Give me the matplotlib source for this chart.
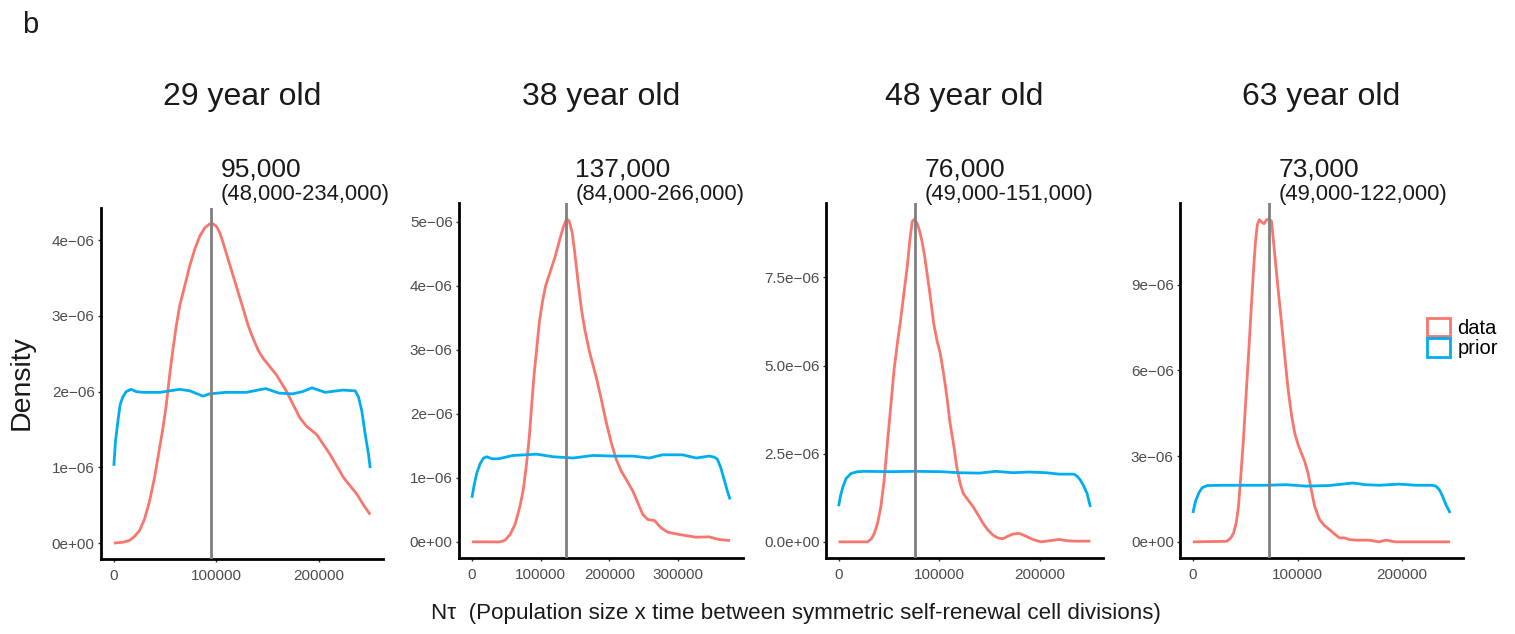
import numpy as np
import matplotlib
matplotlib.use("Agg")
import matplotlib.pyplot as plt
from matplotlib.patches import Patch

plt.rcParams['font.family'] = ['Liberation Sans', 'DejaVu Sans']

W, H = 1515, 634

# ---------------- data ----------------
titles = ["29 year old", "38 year old", "48 year old", "63 year old"]
medians = [95000, 137000, 76000, 73000]
median_labels = ["95,000", "137,000", "76,000", "73,000"]
ci_labels = ["(48,000-234,000)", "(84,000-266,000)", "(49,000-151,000)", "(49,000-122,000)"]

# x in thousands, density in 1e-6
data1_x = [0, 8.8, 15.3, 20.2, 25.1, 30.0, 34.9, 39.7, 44.6, 47.9, 51.1, 54.4, 57.7, 60.9, 64.2, 69.1, 73.9, 78.8,
           83.7, 88.6, 93.5, 96.7, 100.0, 103.3, 106.5, 111.4, 116.3, 121.2, 126.1, 130.9, 135.8, 140.7, 145.6,
           152.1, 158.6, 163.5, 168.4, 174.9, 181.4, 187.9, 197.7, 204.2, 210.7, 217.3, 223.8, 230.3, 236.8, 243.3, 249.8]
data1_y = [0.0, 0.01, 0.035, 0.087, 0.166, 0.319, 0.559, 0.865, 1.258, 1.52, 1.825, 2.218, 2.568, 2.873, 3.135, 3.397,
           3.659, 3.878, 4.052, 4.162, 4.214, 4.214, 4.183, 4.096, 3.965, 3.747, 3.528, 3.31, 3.092, 2.873, 2.699,
           2.546, 2.437, 2.328, 2.218, 2.109, 2.0, 1.825, 1.651, 1.541, 1.432, 1.301, 1.17, 1.017, 0.865, 0.755,
           0.646, 0.502, 0.376]
prior1_x = [0, 1.6, 3.9, 6.2, 8.8, 12.1, 16.9, 21.8, 28, 45, 64, 74, 87, 93, 109, 129, 148, 161, 174, 184, 193, 206,
            223, 235.2, 238.4, 241.7, 245.0, 248.2, 249.8]
prior1_y = [1.02, 1.34, 1.6, 1.83, 1.93, 2.0, 2.03, 2.0, 1.99, 1.99, 2.03, 2.01, 1.94, 1.97, 1.99, 1.99, 2.04, 1.98,
            1.97, 2.0, 2.05, 1.99, 2.02, 2.01, 1.93, 1.74, 1.43, 1.17, 0.99]

data2_x = [0, 41, 48.2, 55.5, 62.7, 69.9, 74.8, 79.6, 83.5, 86.8, 90.2, 94.1, 97.9, 102.3, 107.1, 113.4, 120.6, 127.8,
           132.7, 137.5, 141.3, 145.7, 149.5, 154.4, 159.2, 164.0, 171.2, 180.9, 188.1, 195.4, 202.6, 209.8, 217.1,
           224.3, 234.0, 241.2, 248.4, 255.7, 265.3, 275.0, 284.6, 301.5, 325.6, 344.9, 359.4, 375.3]
data2_y = [0.0, 0.0, 0.026, 0.115, 0.271, 0.558, 0.819, 1.236, 1.653, 2.122, 2.591, 3.008, 3.425, 3.738, 3.999, 4.208,
           4.442, 4.729, 4.911, 5.042, 5.016, 4.833, 4.52, 4.051, 3.634, 3.321, 2.956, 2.565, 2.226, 1.861, 1.548,
           1.288, 1.105, 0.975, 0.792, 0.61, 0.428, 0.349, 0.334, 0.219, 0.151, 0.115, 0.073, 0.078, 0.036, 0.021]
prior2_x = [0, 3.4, 7.2, 12.1, 16.9, 21.7, 28.9, 38.6, 60, 94, 118, 147, 176, 205, 234, 258, 277, 306, 326, 345,
            352.2, 357, 361.8, 366.6, 371.4, 375.3]
prior2_y = [0.688, 0.897, 1.079, 1.225, 1.309, 1.33, 1.298, 1.298, 1.35, 1.37, 1.33, 1.31, 1.35, 1.34, 1.34, 1.31,
            1.36, 1.36, 1.31, 1.34, 1.324, 1.288, 1.157, 0.975, 0.792, 0.662]

data3_x = [0, 28.8, 32.7, 35.4, 38.6, 41.9, 45.2, 48.4, 51.7, 55.0, 58.3, 61.5, 64.8, 68.1, 70.7, 73.0, 75.3, 77.9,
           80.5, 82.8, 85.4, 87.7, 91.0, 94.3, 97.5, 100.8, 104.1, 107.4, 110.6, 113.9, 117.2, 120.5, 123.7, 128.6,
           133.6, 138.5, 143.4, 148.3, 153.2, 158.1, 163.0, 167.9, 172.8, 179.4, 185.9, 192.5, 200.7, 208.8, 218.7,
           226.8, 235.0, 249.8]
data3_y = [0.0, 0.0, 0.095, 0.237, 0.52, 0.993, 1.75, 2.79, 3.83, 4.87, 5.63, 6.29, 7.05, 7.8, 8.56, 9.08, 9.15, 9.03,
           8.8, 8.51, 8.09, 7.62, 6.95, 6.2, 5.72, 5.35, 4.78, 4.12, 3.36, 2.79, 2.13, 1.66, 1.37, 1.18, 0.99, 0.76,
           0.52, 0.33, 0.19, 0.11, 0.09, 0.16, 0.22, 0.24, 0.16, 0.07, 0.0, 0.03, 0.07, 0.03, 0.02, 0.02]
prior3_x = [0, 2.0, 4.3, 7.5, 12.4, 19.0, 25.5, 52, 75, 101, 120, 140, 156, 173, 189, 206, 219, 233.4, 236.7, 239.9,
            243.2, 246.5, 249.8]
prior3_y = [1.01, 1.32, 1.56, 1.8, 1.94, 1.99, 2.0, 1.99, 2.0, 1.99, 1.96, 1.95, 2.0, 1.96, 1.98, 1.96, 1.92, 1.92,
            1.86, 1.75, 1.58, 1.37, 0.99]

data4_x = [0, 32.5, 36.3, 38.9, 41.4, 43.6, 45.8, 48.3, 50.6, 53.1, 55.3, 57.8, 59.7, 61.6, 63.5, 65.7, 67.9, 70.5,
           73.0, 75.2, 78.4, 81.5, 84.7, 87.8, 91.0, 94.2, 97.3, 100.5, 103.6, 106.8, 110.0, 113.1, 116.3, 121.0,
           125.7, 130.5, 135.2, 140.0, 144.7, 149.4, 155.8, 168.4, 177.9, 184.2, 193.7, 245.8]
data4_y = [0.0, 0.02, 0.14, 0.31, 0.66, 1.25, 2.3, 3.58, 4.98, 6.49, 7.89, 9.41, 10.45, 11.1, 11.27, 11.19, 11.13,
           11.27, 11.29, 11.21, 9.99, 8.82, 7.66, 6.49, 5.33, 4.45, 3.81, 3.4, 3.11, 2.82, 2.41, 1.83, 1.25, 0.78,
           0.57, 0.43, 0.28, 0.14, 0.14, 0.08, 0.06, 0.06, 0.0, 0.06, 0.0, 0.0]
prior4_x = [0, 2.5, 5.7, 8.8, 13.6, 29, 55, 70, 89, 108, 130, 153, 165, 178, 197, 213, 228.4, 232.2, 235.4, 238.5,
            241.7, 245.8]
prior4_y = [1.01, 1.42, 1.71, 1.89, 1.97, 1.98, 1.98, 1.98, 2.0, 1.95, 1.97, 2.06, 2.0, 1.98, 2.02, 1.98, 1.98,
            1.95, 1.83, 1.6, 1.31, 1.01]

data_x = [data1_x, data2_x, data3_x, data4_x]
data_y = [data1_y, data2_y, data3_y, data4_y]
prior_x = [prior1_x, prior2_x, prior3_x, prior4_x]
prior_y = [prior1_y, prior2_y, prior3_y, prior4_y]

ytick_vals = [[0, 1e-6, 2e-6, 3e-6, 4e-6],
              [0, 1e-6, 2e-6, 3e-6, 4e-6, 5e-6],
              [0, 2.5e-6, 5.0e-6, 7.5e-6],
              [0, 3e-6, 6e-6, 9e-6]]
ytick_labels = [["0e+00", "1e\u221206", "2e\u221206", "3e\u221206", "4e\u221206"],
                ["0e+00", "1e\u221206", "2e\u221206", "3e\u221206", "4e\u221206", "5e\u221206"],
                ["0.0e+00", "2.5e\u221206", "5.0e\u221206", "7.5e\u221206"],
                ["0e+00", "3e\u221206", "6e\u221206", "9e\u221206"]]
xtick_vals = [[0, 100000, 200000],
              [0, 100000, 200000, 300000],
              [0, 100000, 200000],
              [0, 100000, 200000]]
xtick_labels = [[str(v) for v in xv] for xv in xtick_vals]

# ---------------- style ----------------
RED = "#F8766D"
BLUE = "#00AEEF"
# axes boxes in pixels: left, right, top, bottom
boxes = [(101, 383, 208, 559), (459, 743, 203, 558), (826, 1103, 203, 558), (1180, 1463, 203, 558)]

fig = plt.figure(figsize=(W / 100, H / 100), dpi=100)

for i in range(4):
    l, r, t, b = boxes[i]
    ax = fig.add_axes([l / W, 1 - b / H, (r - l) / W, (b - t) / H])
    dx = np.array(data_x[i]) * 1e3
    dy = np.array(data_y[i]) * 1e-6
    px = np.array(prior_x[i]) * 1e3
    py = np.array(prior_y[i]) * 1e-6
    ax.plot(dx, dy, color=RED, lw=2.0, solid_joinstyle='round', solid_capstyle='butt', zorder=3)
    ax.plot(px, py, color=BLUE, lw=2.0, solid_joinstyle='round', solid_capstyle='butt', zorder=3)
    ax.axvline(medians[i], color="#808080", lw=2.0, zorder=4)

    xmax = max(dx.max(), px.max())
    ymax = max(dy.max(), py.max())
    ax.set_xlim(-0.05 * xmax, 1.05 * xmax)
    ax.set_ylim(-0.05 * ymax, 1.05 * ymax)

    ax.set_yticks(ytick_vals[i])
    ax.set_yticklabels(ytick_labels[i])
    ax.set_xticks(xtick_vals[i])
    ax.set_xticklabels(xtick_labels[i])
    ax.tick_params(axis='both', length=2.5, width=1.0, color="#333333",
                   labelsize=11, labelcolor="#4D4D4D", pad=2)
    ax.tick_params(axis='x', pad=5)

    for s in ['top', 'right']:
        ax.spines[s].set_visible(False)
    for s in ['left', 'bottom']:
        ax.spines[s].set_linewidth(2.0)
        ax.spines[s].set_color('black')
    ax.set_facecolor('white')

    # title
    cx = (l + r) / 2 / W
    fig.text(cx, 1 - 97 / H, titles[i], ha='center', va='center', fontsize=23, color='#1A1A1A')

    # annotation next to median line
    xpix = ax.transData.transform((medians[i], 0))[0] + 9
    fig.text(xpix / W, 1 - 177 / H, median_labels[i], ha='left', va='baseline', fontsize=19, color='#1A1A1A')
    fig.text(xpix / W, 1 - 200 / H, ci_labels[i], ha='left', va='baseline', fontsize=15.8, color='#1A1A1A')

fig.text(22 / W, 1 - 383 / H, "Density", rotation=90, ha='center', va='center', fontsize=20.5, color='#1A1A1A')
fig.text(796 / W, 1 - 614 / H, "N\u03c4  (Population size x time between symmetric self-renewal cell divisions)",
         ha='center', va='center', fontsize=16.1, color='#1A1A1A')
fig.text(22 / W, 1 - 33 / H, "b", ha='left', va='baseline', fontsize=21, color='#1A1A1A')

handles = [Patch(facecolor='white', edgecolor=RED, lw=2.0, label='data'),
           Patch(facecolor='white', edgecolor=BLUE, lw=2.0, label='prior')]
fig.legend(handles=handles, loc='center left', bbox_to_anchor=(1427 / W, 1 - 338 / H),
           frameon=False, fontsize=14.5, handlelength=1.15, handleheight=1.05,
           handletextpad=0.35, labelspacing=0.02, borderpad=0, borderaxespad=0)

fig.savefig("out.png", dpi=100, facecolor='white')
